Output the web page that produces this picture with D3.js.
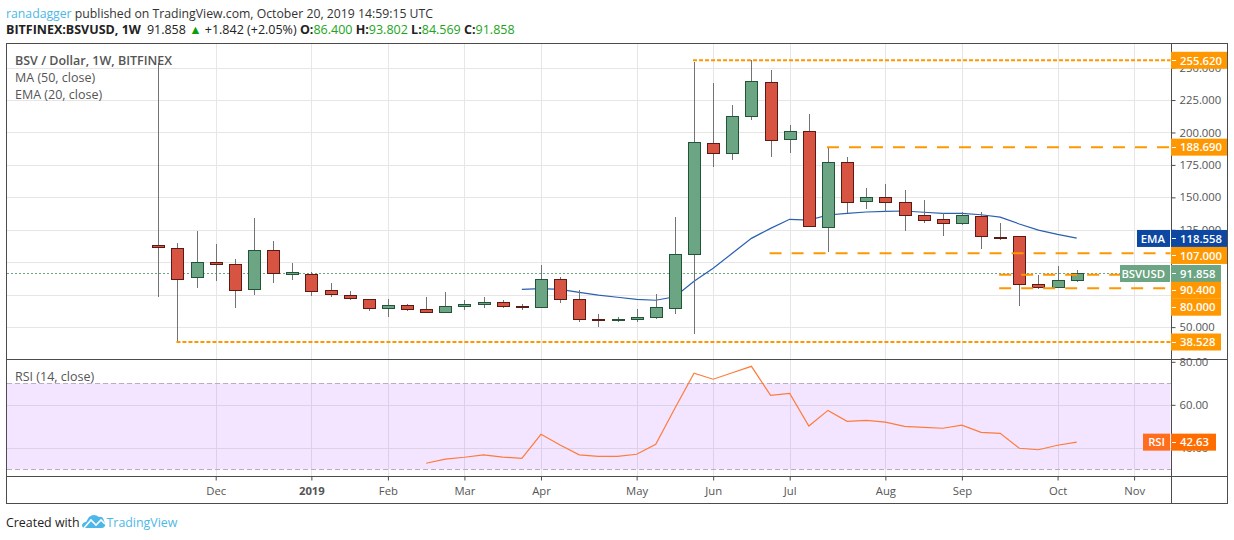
<!DOCTYPE html>
<html>
<head>
<meta charset="utf-8">
<title>BSVUSD 1W</title>
<script src="https://cdnjs.cloudflare.com/ajax/libs/d3/7.8.5/d3.min.js"></script>
<style>
  html, body { margin: 0; padding: 0; background: #fff; overflow: hidden; }
  text { font-family: "Open Sans", "Noto Sans", sans-serif; }
  .tick text { font-size: 11.3px; fill: #555; }
</style>
</head>
<body>
<div id="chart"></div>
<script>
// Weekly candles. Index 0 is the week of Nov 12 2018
const opens = [113.0,110.7,88.1,99.9,98.4,79.1,109.2,90.7,91.2,78.4,74.5,71.4,64.5,66.8,63.7,61.4,66.0,67.6,69.1,66.0,65.3,86.8,71.4,56.5,55.2,56.0,57.6,64.5,106.1,191.6,183.9,212.5,238.7,194.7,200.9,126.9,177.0,146.9,150.0,146.2,136.2,133.1,130.0,135.4,119.6,120.0,83.0,80.7,86.4];
const highs = [253.3,114.8,124.1,114.0,102.2,133.8,116.4,99.4,92.2,84.0,77.8,71.7,71.7,67.8,73.2,77.0,70.9,73.2,70.9,67.8,97.9,88.4,78.6,60.1,57.8,63.9,75.5,134.6,254.3,238.1,221.2,255.62,248.1,205.8,214.2,188.6,181.1,157.2,160.3,155.7,147.9,137.7,138.5,138.5,130.0,120.0,89.9,97.1,93.802];
const lows = [73.4,38.528,80.4,85.8,65.0,75.0,84.2,86.5,74.2,73.4,71.1,62.6,58.0,62.6,61.4,61.1,63.4,65.0,65.0,63.4,65.2,68.8,54.2,50.3,54.2,54.2,56.5,60.3,44.9,173.6,179.0,209.8,181.3,184.4,127.7,107.6,137.7,141.2,138.5,124.3,130.0,120.4,128.9,110.4,117.4,66.5,79.6,80.7,84.569];
const closes = [111.2,86.8,99.9,98.4,78.4,109.2,91.5,92.2,78.4,75.3,72.2,64.5,66.8,63.7,61.4,66.0,67.6,69.1,66.0,65.3,86.8,71.4,56.0,56.0,56.0,57.6,65.3,106.1,192.4,183.9,212.5,239.4,194.0,200.9,127.7,177.0,146.2,150.0,146.2,136.2,132.3,130.0,136.2,120.0,119.1,83.0,80.7,86.1,91.858];

// EMA starts at week 19, RSI at week 14
const emaStart = 19;
const emaValues = [79.1,79.6,79.1,76.8,74.7,73.0,71.4,70.7,73.4,85.3,95.3,106.9,118.4,126.1,133.1,132.5,136.4,137.7,138.7,139.2,139.5,138.5,137.7,137.7,136.6,134.8,129.5,124.8,121.5,118.558];
const rsiStart = 14;
const rsiValues = [32.8,34.7,35.6,36.7,35.7,35.1,46.3,41.3,36.7,36.0,36.0,37.0,41.6,58.4,74.7,71.9,74.9,77.9,64.4,65.3,50.1,57.4,52.3,52.8,51.9,50.0,49.5,49.1,50.5,47.2,46.7,39.8,39.1,41.2,42.63];

// Time axis
const timeTickWeeks = [3,8,12,16,20,25,29,33,38,42,47,51];
const timeTickLabels = ["Dec","2019","Feb","Mar","Apr","May","Jun","Jul","Aug","Sep","Oct","Nov"];

// Price and RSI axes. 75 and 100 keep their grid lines but their labels are hidden by the boxes
const priceTicks = [50,75,100,125,150,175,200,225,250];
const hiddenPriceLabels = [75,100];
const rsiTicks = [40,60,80];

// Drawn horizontal levels and the week each one starts from
const levelValues = [255.62,188.69,107,90.4,80,38.528];
const levelStarts = [28,35,32,44,44,1];

const lastPrice = 91.858;
const lastEma = 118.558;
const lastRsi = 42.63;

const width = 1234;
const height = 540;
const left = 6.5, right = 1227.5, axisX = 1171.5;
const mainTop = 43.5, mainBottom = 359.5, rsiBottom = 476.5, frameBottom = 503.5;

const upFill = "#6ba583", upLine = "#225437";
const downFill = "#d75442", downLine = "#5b1a13";
const gridColor = "#e6e6e6", frameColor = "#4c4c4c";
const orange = "#ff9800";

const svg = d3.select("#chart").append("svg")
  .attr("width", width)
  .attr("height", height)
  .style("display", "block");

// Scales
const x = d3.scaleLinear().domain([0, 48]).range([158.3, 1076.7]);
const y = d3.scaleLinear().domain([38.528, 255.62]).range([342, 60.3]);
const yRsi = d3.scaleLinear().domain([30, 70]).range([469.3, 383.3]);
const px = v => Math.round(v) + 0.5;

/* Grid */
const grid = svg.append("g").attr("shape-rendering", "crispEdges");
grid.selectAll(".vgrid")
  .data(timeTickWeeks.filter(w => x(w) < axisX))
  .enter().append("line")
    .attr("x1", d => px(x(d))).attr("x2", d => px(x(d)))
    .attr("y1", mainTop).attr("y2", rsiBottom)
    .attr("stroke", gridColor);
grid.selectAll(".hgrid")
  .data(priceTicks)
  .enter().append("line")
    .attr("x1", left).attr("x2", axisX)
    .attr("y1", d => px(y(d))).attr("y2", d => px(y(d)))
    .attr("stroke", gridColor);

/* RSI pane */
const rsiPane = svg.append("g");
rsiPane.append("rect")
  .attr("x", left).attr("width", axisX - left - 1)
  .attr("y", yRsi(70)).attr("height", yRsi(30) - yRsi(70))
  .attr("fill", "#9c27ff").attr("fill-opacity", 0.12);
rsiPane.selectAll(".rsigrid")
  .data([40, 60])
  .enter().append("line")
    .attr("x1", left).attr("x2", axisX - 1)
    .attr("y1", d => px(yRsi(d))).attr("y2", d => px(yRsi(d)))
    .attr("stroke", "#dcd2e6").attr("shape-rendering", "crispEdges");
rsiPane.selectAll(".band")
  .data([70, 30])
  .enter().append("line")
    .attr("x1", left).attr("x2", axisX - 1)
    .attr("y1", d => px(yRsi(d))).attr("y2", d => px(yRsi(d)))
    .attr("stroke", "#b9aec4").attr("stroke-dasharray", "5 3")
    .attr("shape-rendering", "crispEdges");
rsiPane.append("path")
  .datum(rsiValues)
  .attr("fill", "none")
  .attr("stroke", "#ff7b3a")
  .attr("stroke-width", 1.2)
  .attr("d", d3.line().x((d, i) => x(i + rsiStart)).y(d => yRsi(d)));

/* Last price line */
svg.append("line")
  .attr("x1", left).attr("x2", 1120)
  .attr("y1", px(y(lastPrice))).attr("y2", px(y(lastPrice)))
  .attr("stroke", upFill).attr("stroke-dasharray", "2 2")
  .attr("shape-rendering", "crispEdges");

/* EMA, sits under the candles */
svg.append("path")
  .datum(emaValues)
  .attr("fill", "none")
  .attr("stroke", "#2a5fb0")
  .attr("stroke-width", 1.2)
  .attr("d", d3.line().x((d, i) => x(i + emaStart)).y(d => y(d)));

/* Candles */
const candles = d3.range(opens.length);
svg.selectAll(".wick")
  .data(candles)
  .enter().append("line")
    .attr("class", "wick")
    .attr("x1", i => px(x(i))).attr("x2", i => px(x(i)))
    .attr("y1", i => y(highs[i])).attr("y2", i => y(lows[i]))
    .attr("stroke", "#737375")
    .attr("shape-rendering", "crispEdges");
svg.selectAll(".bar")
  .data(candles)
  .enter().append("rect")
    .attr("class", "bar")
    .attr("x", i => px(x(i)) - 6)
    .attr("width", 12)
    .attr("y", i => px(y(Math.max(opens[i], closes[i]))))
    .attr("height", i => Math.max(1, Math.round(Math.abs(y(opens[i]) - y(closes[i])))))
    .attr("fill", i => closes[i] >= opens[i] ? upFill : downFill)
    .attr("stroke", i => closes[i] >= opens[i] ? upLine : downLine)
    .attr("shape-rendering", "crispEdges");

/* Drawn levels: the two extremes are dotted, the rest long dash */
svg.selectAll(".level")
  .data(levelValues)
  .enter().append("line")
    .attr("class", "level")
    .attr("x1", (d, i) => x(levelStarts[i]) - 1).attr("x2", axisX - 1)
    .attr("y1", d => y(d)).attr("y2", d => y(d))
    .attr("stroke", orange)
    .attr("stroke-width", 2)
    .attr("stroke-dasharray", d => (d === 255.62 || d === 38.528) ? "4 2" : "12 10");

/* Axes */
const priceAxis = svg.append("g")
  .attr("transform", `translate(${axisX},0)`)
  .call(d3.axisRight(y).tickValues(priceTicks)
    .tickFormat(d => hiddenPriceLabels.includes(d) ? "" : d3.format(".3f")(d))
    .tickSize(4).tickPadding(4));
const rsiAxis = svg.append("g")
  .attr("transform", `translate(${axisX},0)`)
  .call(d3.axisRight(yRsi).tickValues(rsiTicks).tickFormat(d3.format(".2f")).tickSize(4).tickPadding(4));
const timeAxis = svg.append("g")
  .attr("transform", `translate(0,${rsiBottom})`)
  .call(d3.axisBottom(x).tickValues(timeTickWeeks).tickFormat((d, i) => timeTickLabels[i]).tickSize(4).tickPadding(6));
[priceAxis, rsiAxis, timeAxis].forEach(a => {
  a.select(".domain").remove();
  a.selectAll("line").attr("stroke", frameColor);
});
timeAxis.selectAll("text").attr("font-weight", d => d === 8 ? "bold" : null);

/* Frame */
const frame = svg.append("g").attr("fill", "none").attr("stroke", frameColor).attr("shape-rendering", "crispEdges");
frame.append("rect").attr("x", left).attr("y", mainTop).attr("width", right - left).attr("height", frameBottom - mainTop);
frame.append("line").attr("x1", left).attr("x2", right).attr("y1", mainBottom).attr("y2", mainBottom);
frame.append("line").attr("x1", left).attr("x2", right).attr("y1", rsiBottom).attr("y2", rsiBottom);
frame.append("line").attr("x1", axisX).attr("x2", axisX).attr("y1", mainTop).attr("y2", frameBottom);

/* Price labels on the axis. Some are pushed down so they do not overlap */
function priceLabel(label, cy, boxRight, fill) {
  svg.append("rect")
    .attr("x", axisX - 0.5).attr("y", cy - 8.5)
    .attr("width", boxRight - axisX + 0.5).attr("height", 17)
    .attr("fill", fill);
  svg.append("line")
    .attr("x1", axisX).attr("x2", axisX + 4).attr("y1", px(cy)).attr("y2", px(cy))
    .attr("stroke", "#fff").attr("shape-rendering", "crispEdges");
  svg.append("text")
    .attr("x", axisX + 8.5).attr("y", cy + 4.2)
    .attr("font-size", 11.3).attr("font-weight", 600).attr("fill", "#fff")
    .text(label);
}
function sideLabel(label, xLeft, cy, fill) {
  svg.append("rect")
    .attr("x", xLeft).attr("y", cy - 8.5)
    .attr("width", axisX - xLeft - 1.5).attr("height", 17)
    .attr("fill", fill);
  svg.append("text")
    .attr("x", 1165).attr("y", cy + 4.2)
    .attr("text-anchor", "end")
    .attr("font-size", 11.3).attr("font-weight", 600).attr("fill", "#fff")
    .text(label);
}
const fmt3 = d3.format(".3f");
priceLabel(fmt3(levelValues[0]), y(levelValues[0]), 1227, orange);
priceLabel(fmt3(levelValues[1]), y(levelValues[1]), 1227, orange);
priceLabel(fmt3(lastEma), y(lastEma) + 0.3, 1227, "#0d47a1");
priceLabel(fmt3(levelValues[2]), y(levelValues[2]) + 2.3, 1227, orange);
priceLabel(fmt3(lastPrice), y(lastPrice) + 0.7, 1221, upFill);
priceLabel(fmt3(levelValues[3]), y(levelValues[3]) + 15.6, 1221, orange);
priceLabel(fmt3(levelValues[4]), y(levelValues[4]) + 19, 1221, orange);
priceLabel(fmt3(levelValues[5]), y(levelValues[5]), 1221, orange);
priceLabel(lastRsi.toFixed(2), yRsi(lastRsi), 1216, "#ff6d00");
sideLabel("EMA", 1137, y(lastEma) + 0.3, "#0d47a1");
sideLabel("BSVUSD", 1120, y(lastPrice) + 0.7, upFill);
sideLabel("RSI", 1143, yRsi(lastRsi), "#ff6d1f");

/* Pane legends */
const legend = svg.append("g").attr("font-size", 12.5).attr("fill", "#555");
legend.append("text").attr("x", 15).attr("y", 65).attr("font-weight", 600).text("BSV / Dollar, 1W, BITFINEX");
legend.append("text").attr("x", 15).attr("y", 82).text("MA (50, close)");
legend.append("text").attr("x", 15).attr("y", 99).text("EMA (20, close)");
legend.append("text").attr("x", 15).attr("y", 381).text("RSI (14, close)");

/* Header */
const head1 = svg.append("text").attr("x", 6).attr("y", 17.5).attr("font-size", 12.25).attr("fill", "#333");
head1.append("tspan").attr("fill", "#4db8e8").text("ranadagger");
head1.append("tspan").text(" published on TradingView.com, October 20, 2019 14:59:15 UTC");

const green = "#1aa51a";
const head2 = svg.append("text").attr("x", 6).attr("y", 34).attr("font-size", 12.5).attr("fill", "#222");
head2.append("tspan").attr("font-weight", "bold").text("BITFINEX:BSVUSD, 1W");
head2.append("tspan").attr("dx", 6).text("91.858 ");
head2.append("tspan").attr("fill", "#0a9e0a").text("▲");
head2.append("tspan").text(" +1.842 (+2.05%) ");
[["O:", "86.400"], ["H:", "93.802"], ["L:", "84.569"], ["C:", "91.858"]].forEach(p => {
  head2.append("tspan").attr("font-weight", "bold").text(p[0]);
  head2.append("tspan").attr("fill", green).text(p[1] + " ");
});

/* Footer */
svg.append("text").attr("x", 6).attr("y", 527).attr("font-size", 12.4).attr("fill", "#222").text("Created with");
svg.append("path")
  .attr("fill", "#4db8e8")
  .attr("d", "M82 525 Q83 522 86 522 L89 517 Q94 513 99 517 Q103 516 104 521 Q106 523 105 526 Q104 528 102 528 L85 528 Q82 528 82 525 Z");
svg.append("path")
  .attr("fill", "none").attr("stroke", "#fff").attr("stroke-width", 1.6)
  .attr("d", "M84 528 L91 520 L96 525 L101 520 L105 524");
svg.append("text").attr("x", 106.5).attr("y", 527).attr("font-size", 12.4).attr("fill", "#4db8e8").text("TradingView");
</script>
</body>
</html>
